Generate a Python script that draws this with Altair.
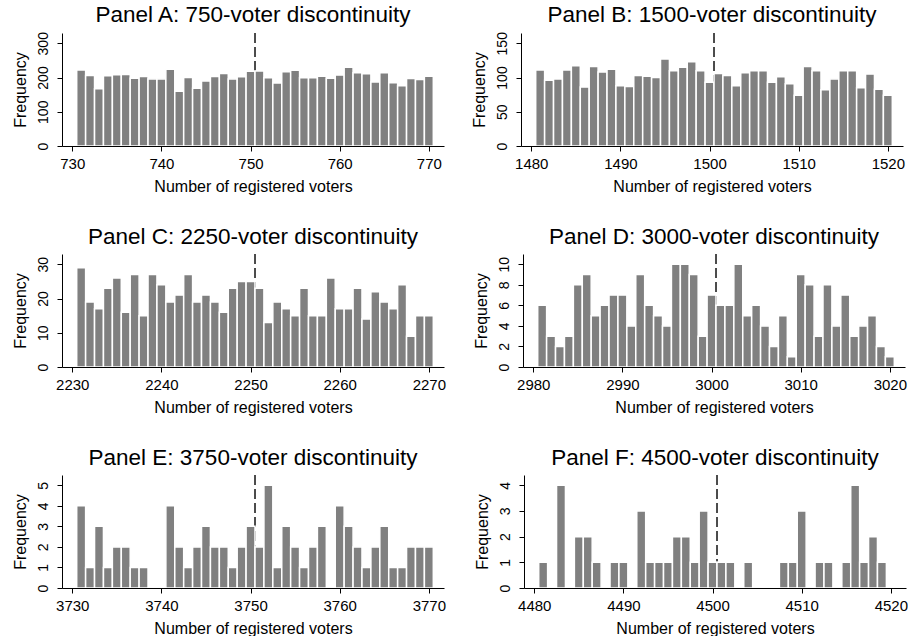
import altair as alt
import pandas as pd

FONT = "Liberation Sans"

panel_letters = ["A", "B", "C", "D", "E", "F"]
thresholds = [750, 1500, 2250, 3000, 3750, 4500]

freq_A = [222, 206, 167, 205, 208, 209, 198, 203, 196, 196,
          224, 160, 200, 169, 190, 203, 212, 196, 202, 218,
          219, 199, 184, 217, 221, 199, 199, 204, 198, 207,
          230, 214, 211, 187, 214, 185, 176, 197, 194, 204]
freq_B = [111, 96, 98, 111, 117, 86, 116, 108, 112, 88,
          87, 103, 102, 100, 127, 110, 115, 123, 110, 93,
          106, 103, 88, 107, 110, 110, 93, 101, 91, 74,
          116, 110, 82, 98, 110, 110, 85, 105, 83, 74]
freq_C = [29, 19, 17, 23, 26, 16, 27, 15, 27, 24,
          19, 21, 27, 19, 21, 19, 16, 23, 25, 25,
          23, 13, 19, 17, 15, 23, 15, 15, 26, 17,
          17, 23, 14, 22, 19, 17, 24, 9, 15, 15]
freq_D = [6, 3, 2, 3, 8, 9, 5, 6, 7, 7,
          4, 9, 6, 5, 4, 10, 10, 9, 3, 7,
          6, 6, 10, 5, 6, 4, 2, 5, 1, 9,
          8, 3, 8, 4, 7, 3, 4, 5, 2, 1]
freq_E = [4, 1, 3, 1, 2, 2, 1, 1, 0, 0,
          4, 2, 1, 2, 3, 2, 2, 1, 2, 3,
          2, 5, 1, 3, 2, 1, 2, 3, 0, 4,
          3, 2, 1, 2, 3, 1, 1, 2, 2, 2]
freq_F = [1, 0, 4, 0, 2, 2, 1, 0, 1, 1,
          0, 3, 1, 1, 1, 2, 2, 1, 3, 1,
          1, 1, 0, 1, 0, 0, 0, 1, 1, 3,
          0, 1, 1, 0, 1, 4, 1, 2, 1, 0]

y_ticks = [[0, 100, 200, 300], [0, 50, 100, 150], [0, 10, 20, 30],
           [0, 2, 4, 6, 8, 10], [0, 1, 2, 3, 4, 5], [0, 1, 2, 3, 4]]
y_max = [330, 165, 33, 11, 5.5, 4.4]
all_freqs = [freq_A, freq_B, freq_C, freq_D, freq_E, freq_F]

W, H = 382, 113


def panel(letter, thr, freqs, ticks, ymax):
    lo = thr - 20
    df = pd.DataFrame({"voters": list(range(thr - 19, thr + 21)), "freq": freqs})
    df["x0"] = df["voters"] - 0.5
    df["x1"] = df["voters"] + 0.5
    df["base"] = 0
    df = df[df["freq"] > 0]
    xscale = alt.Scale(domain=[lo - 1.15, lo + 41.7], nice=False, zero=False)
    yscale = alt.Scale(domain=[0, ymax], nice=False, zero=True)
    xaxis = alt.Axis(values=[lo, lo + 10, lo + 20, lo + 30, lo + 40], format="d",
                     title="Number of registered voters", grid=False,
                     tickSize=5, labelPadding=5, titlePadding=7, zindex=1,
                     labelFontSize=15, titleFontSize=16)
    yaxis = alt.Axis(values=ticks, format="d", title="Frequency", grid=False,
                     tickSize=5, labelAngle=270, labelAlign="center",
                     labelBaseline="bottom", labelPadding=7, titlePadding=8, zindex=1,
                     labelFontSize=14, titleFontSize=16)
    rule = alt.Chart(pd.DataFrame({"c": [thr + 0.5]})).mark_rule(
        color="black", strokeWidth=1.4, strokeDash=[10, 4]
    ).encode(
        x=alt.X("c:Q", scale=xscale, axis=xaxis),
        y=alt.value(0),
        y2=alt.value(H),
    )
    bars = alt.Chart(df).mark_bar(color="#808080", stroke="white", strokeWidth=1.5).encode(
        x=alt.X("x0:Q", scale=xscale, axis=xaxis),
        x2="x1:Q",
        y=alt.Y("freq:Q", scale=yscale, axis=yaxis),
        y2="base:Q",
    )
    return alt.layer(rule, bars).properties(
        width=W, height=H,
        title=alt.TitleParams(text=f"Panel {letter}: {thr}-voter discontinuity",
                              fontSize=22.5, font=FONT, fontWeight="normal",
                              anchor="middle", color="black", offset=5),
    )


charts = [panel(l, t, f, yt, ym) for l, t, f, yt, ym in
          zip(panel_letters, thresholds, all_freqs, y_ticks, y_max)]

rows = [alt.hconcat(charts[i], charts[i + 1], spacing=27) for i in (0, 2, 4)]
chart = alt.vconcat(*rows, spacing=31).properties(
    padding={"left": 12, "top": 4, "right": 0, "bottom": 0},
    background="white",
).configure_view(stroke=None).configure_axis(
    labelFont=FONT, titleFont=FONT,
    titleFontWeight="normal", labelColor="black", titleColor="black",
    domainColor="black", tickColor="black", domainWidth=1, tickWidth=1,
)

chart.save("out.html", embed_options={"renderer": "svg", "actions": False})
